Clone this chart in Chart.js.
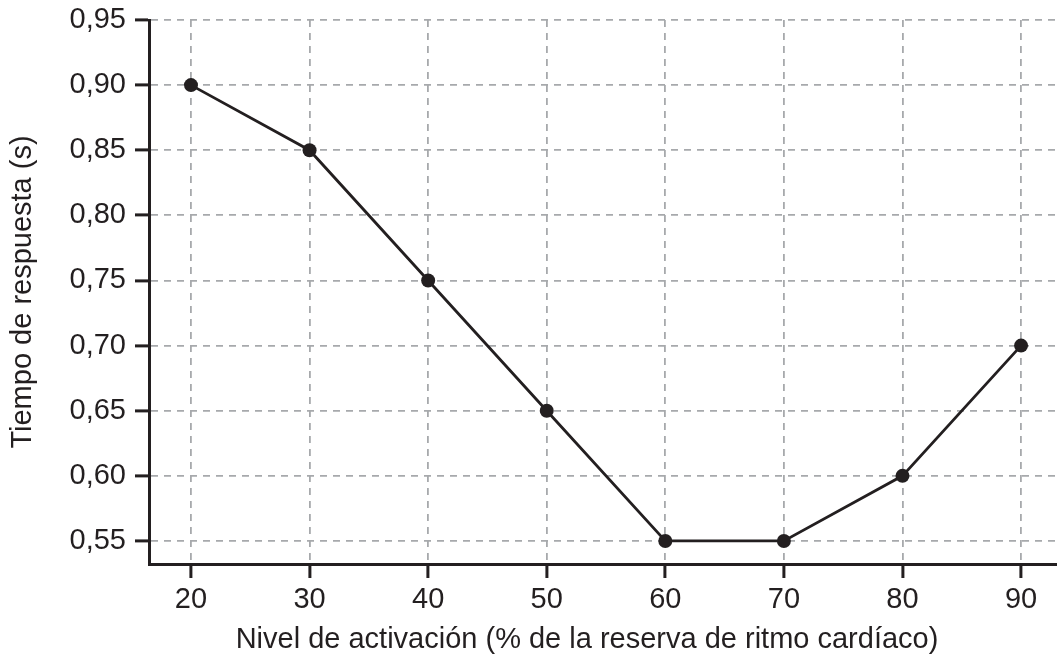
<!DOCTYPE html>
<html>
<head>
<meta charset="utf-8">
<script src="https://cdn.jsdelivr.net/npm/chart.js@4"></script>
<style>
  html, body { margin: 0; padding: 0; background: #fff; }
  #wrap { width: 1057px; height: 666px; }
  canvas { display: block; }
</style>
</head>
<body>
<div id="wrap"><canvas id="chart" width="1057" height="666"></canvas></div>
<script>
const activation = [20, 30, 40, 50, 60, 70, 80, 90];
const responseTime = [0.90, 0.85, 0.75, 0.65, 0.55, 0.55, 0.60, 0.70];
const xTicks = [20, 30, 40, 50, 60, 70, 80, 90];
const yTicks = [0.55, 0.60, 0.65, 0.70, 0.75, 0.80, 0.85, 0.90, 0.95];
const xTitle = 'Nivel de activación (% de la reserva de ritmo cardíaco)';
const yTitle = 'Tiempo de respuesta (s)';

const ink = '#231f20';
const gridGray = '#a7a9ac';
const fontFamily = '"Liberation Sans", Arial, Helvetica, sans-serif';
const font = { family: fontFamily, size: 29, lineHeight: 1.2 };

// x title is drawn by hand: in the original it sits a bit left of the plot centre
const xTitlePlugin = {
  id: 'xTitle',
  afterDraw(chart) {
    const { ctx, chartArea } = chart;
    ctx.save();
    ctx.font = font.size + 'px ' + fontFamily;
    ctx.fillStyle = ink;
    ctx.textAlign = 'center';
    ctx.textBaseline = 'middle';
    ctx.fillText(xTitle, (chartArea.left + chartArea.right) / 2 - 16, chart.height - 26);
    ctx.restore();
  }
};

const ctx = document.getElementById('chart').getContext('2d');
new Chart(ctx, {
  type: 'line',
  data: {
    datasets: [{
      data: activation.map((x, i) => ({ x: x, y: responseTime[i] })),
      borderColor: ink,
      borderWidth: 2.8,
      backgroundColor: ink,
      pointBackgroundColor: ink,
      pointBorderColor: ink,
      pointRadius: 7,
      pointBorderWidth: 0,
      tension: 0,
      fill: false,
      clip: false
    }]
  },
  options: {
    responsive: false,
    animation: false,
    layout: { autoPadding: false, padding: { top: 20, right: 0, left: 0, bottom: 0 } },
    plugins: {
      legend: { display: false },
      tooltip: { enabled: false }
    },
    scales: {
      x: {
        type: 'linear',
        min: 16.46,
        max: 93.03,
        afterBuildTicks: (scale) => { scale.ticks = xTicks.map(v => ({ value: v })); },
        afterFit: (scale) => {
          scale.height = 102;
          scale.paddingRight = 0;
          scale.paddingLeft = 0;
        },
        ticks: { color: ink, font: font, padding: 5, maxRotation: 0 },
        grid: {
          color: gridGray,
          lineWidth: 1.8,
          tickColor: ink,
          tickWidth: 3,
          tickLength: 14,
          tickBorderDash: []
        },
        border: { display: true, color: ink, width: 3, dash: [7, 6] },
        title: { display: false }
      },
      y: {
        type: 'linear',
        min: 0.5323,
        max: 0.95,
        afterBuildTicks: (scale) => { scale.ticks = yTicks.map(v => ({ value: v })); },
        afterFit: (scale) => {
          scale.width = 149;
          scale.paddingTop = 0;
          scale.paddingBottom = 0;
        },
        ticks: {
          color: ink,
          font: font,
          padding: 9,
          callback: (v) => v.toFixed(2).replace('.', ',')
        },
        grid: {
          color: gridGray,
          lineWidth: 1.8,
          tickColor: ink,
          tickWidth: 3,
          tickLength: 14,
          tickBorderDash: []
        },
        border: { display: true, color: ink, width: 3, dash: [7, 6] },
        title: {
          display: true,
          text: yTitle,
          color: ink,
          font: font,
          padding: { top: 6, bottom: 0 }
        }
      }
    }
  },
  plugins: [xTitlePlugin]
});
</script>
</body>
</html>
